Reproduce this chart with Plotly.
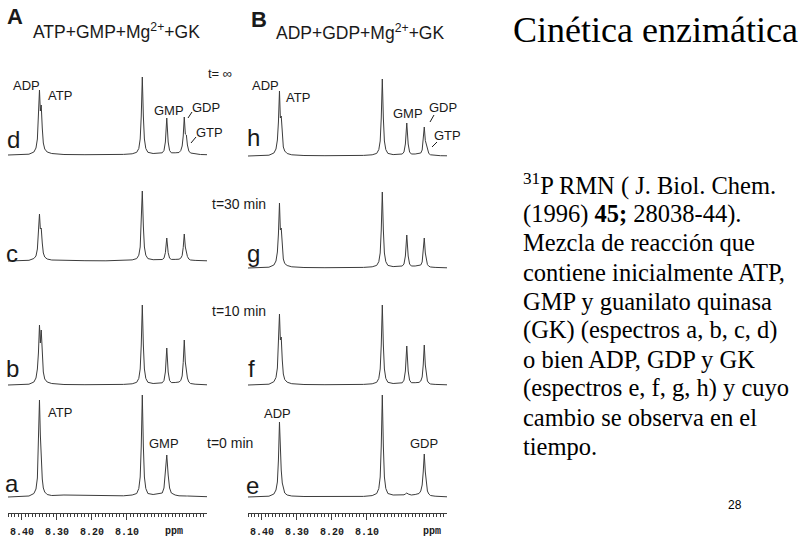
import plotly.graph_objects as go

# ---------------- data ----------------
# chemical-shift grid (ppm) shared by all spectra
PPM = [8.440, 8.420, 8.380,
       8.366, 8.360, 8.356, 8.353, 8.350, 8.3475, 8.345, 8.342, 8.339, 8.335, 8.328, 8.315,
       8.280, 8.220, 8.160, 8.110, 8.085,
       8.072, 8.066, 8.062, 8.059, 8.056, 8.053, 8.050, 8.046, 8.040,
       8.025, 8.008,
       7.999, 7.994, 7.990, 7.986, 7.982, 7.978, 7.973,
       7.962,
       7.951, 7.946, 7.942, 7.939, 7.936, 7.933, 7.930, 7.927, 7.923, 7.918,
       7.905, 7.890, 7.871]

# Panel A : ATP + GMP + Mg2+ + GK  (intensity, arbitrary units)
SPEC_D = [0, 0.3, 0.8,
          3, 7, 16, 35, 65, 44, 50, 27, 12, 6, 3, 1.5,
          0.5, 0.3, 0.2, 0.6, 1.2,
          2.7, 6.5, 16, 39, 78, 39, 16, 6.5, 2.7,
          1.5, 1.8,
          2.2, 4.5, 13, 37, 13, 4.5, 2.2,
          2.2,
          2.5, 4.5, 9, 19, 38, 21, 20, 10, 4, 2,
          1, 0.5, 0.3]
SPEC_C = [0, 0.3, 0.7,
          2.5, 5, 12, 26, 47, 32, 33, 18, 8, 4, 2, 1,
          0.5, 0.3, 0.2, 0.5, 1.1,
          2.4, 5.8, 14, 35, 70, 35, 14, 5.8, 2.4,
          1.3, 1.4,
          1.5, 2.8, 8.3, 23, 8.3, 2.8, 1.6,
          1.6,
          1.8, 2.8, 5.5, 13.5, 27, 14, 8, 4.5, 2, 1,
          0.6, 0.3, 0.2]
SPEC_B = [0, 0.3, 0.8,
          3, 7, 16, 32, 60, 42, 55, 30, 13, 6, 3, 1.5,
          0.5, 0.3, 0.2, 0.6, 1.2,
          2.7, 6.6, 16, 40, 80, 40, 16, 6.6, 2.7,
          1.5, 1.8,
          2.2, 4.5, 13, 37, 13, 4.5, 2.4,
          2.5,
          3, 4.5, 9, 22.5, 45, 23, 14, 7, 3, 1.5,
          0.8, 0.4, 0.2]
SPEC_A = [0, 0.4, 1,
          3.5, 8, 19, 48, 97, 62, 35, 18, 9, 5, 2.5, 1.5,
          2, 1.5, 1, 1.2, 2,
          3.5, 8.5, 20, 51, 102, 51, 20, 8.5, 3.5,
          2.5, 3,
          4, 9, 22, 42, 22, 9, 4,
          2,
          1.2, 1, 1, 1, 1, 1, 1, 1, 1, 1,
          0.8, 0.5, 0.3]

# Panel B : ADP + GDP + Mg2+ + GK
SPEC_H = [0, 0.3, 0.8,
          3, 7, 16, 34, 65, 38, 40, 21, 9, 5, 2.5, 1.2,
          0.5, 0.3, 0.2, 0.6, 1.2,
          2.6, 6.4, 15, 38, 77, 38, 15, 6.4, 2.6,
          1.4, 1.6,
          2, 4, 12, 33, 12, 4, 2,
          2,
          2.2, 3, 6, 14.5, 29, 15.5, 12, 6, 2.5, 1.2,
          0.6, 0.3, 0.2]
SPEC_G = [0, 0.3, 0.8,
          3, 7, 16, 34, 65, 38, 40, 20, 9, 4.5, 2.5, 1.2,
          0.5, 0.3, 0.2, 0.6, 1.2,
          2.6, 6.3, 15, 38, 76, 38, 15, 6.3, 2.6,
          1.4, 1.6,
          2, 4, 12, 33, 12, 4, 2,
          2,
          2.2, 3, 6, 15, 30, 15, 7, 3.5, 1.8, 1,
          0.6, 0.3, 0.2]
SPEC_F = [0, 0.3, 0.8,
          3.3, 7.5, 17, 37, 71, 45, 48, 25, 11, 5.5, 2.8, 1.3,
          0.5, 0.3, 0.2, 0.6, 1.2,
          2.7, 6.6, 16, 40, 80, 40, 16, 6.6, 2.7,
          1.5, 1.8,
          2.2, 4.8, 14, 39, 14, 4.8, 2.3,
          2.3,
          2.6, 4, 8, 20, 40, 20, 8, 4, 2, 1,
          0.6, 0.3, 0.2]
SPEC_E = [0, 0.3, 0.8,
          3, 7, 15, 37, 75, 48, 27, 14, 8, 4, 2, 1,
          0.5, 0.3, 0.2, 0.6, 1.4,
          3.5, 8.5, 20, 51, 102, 51, 20, 8.5, 3.5,
          2, 1.8,
          1.8, 2.2, 3, 4, 3, 2.2, 2,
          2.5,
          3.5, 6, 12, 25, 43, 25, 12, 6, 3, 1.5,
          0.8, 0.4, 0.2]

LABEL_TICKS = [8.40, 8.30, 8.20, 8.10]
LABEL_TEXT = ["8.40", "8.30", "8.20", "8.10"]
MID_TICKS = [8.35, 8.25, 8.15, 8.05, 8.00, 7.95, 7.90]

BODY_LINES = [
    "<sup>31</sup>P RMN ( J. Biol. Chem.",
    "(1996) <b>45;</b> 28038-44).",
    "Mezcla de reacción que",
    "contiene inicialmente ATP,",
    "GMP y guanilato quinasa",
    "(GK) (espectros a, b, c, d)",
    "o bien ADP, GDP y GK",
    "(espectros e, f, g, h) y cuyo",
    "cambio se observa en el",
    "tiempo.",
]

# ---------------- layout helpers ----------------
W, H = 810, 540
def fx(x):
    return x / W
def fy(y):
    return 1 - y / H

SANS = "Liberation Sans, Arial, sans-serif"
SERIF = "Liberation Serif, Times New Roman, serif"
MONO = "Liberation Mono, Courier New, monospace"
INK = "#1a1a1a"
LINE = "#3c3c3c"
XRANGE = [8.44, 7.871]

panels = [
    (SPEC_D, 155, "A", False), (SPEC_C, 261, "A", False),
    (SPEC_B, 385, "A", False), (SPEC_A, 497, "A", True),
    (SPEC_H, 156, "B", False), (SPEC_G, 268, "B", False),
    (SPEC_F, 385, "B", False), (SPEC_E, 497, "B", True),
]
XDOM = {"A": (8, 207), "B": (248, 447)}
AXIS_Y = 513
TOP = 110

fig = go.Figure()
layout = {}
extra = 9
for k, (vals, base, col, bottom) in enumerate(panels, start=1):
    sfx = "" if k == 1 else str(k)
    y0 = AXIS_Y if bottom else base + 4
    fig.add_trace(go.Scatter(x=PPM, y=vals, mode="lines",
                             line=dict(color=LINE, width=1),
                             xaxis="x" + sfx, yaxis="y" + sfx,
                             hoverinfo="skip", showlegend=False))
    xd = XDOM[col]
    xa = dict(domain=[fx(xd[0]), fx(xd[1])], range=XRANGE,
              anchor="y" + sfx, showgrid=False, zeroline=False,
              showticklabels=bottom, showline=bottom,
              linecolor=LINE, linewidth=1)
    if bottom:
        xa.update(ticks="outside", ticklen=6, tickwidth=1, tickcolor=LINE,
                  tickvals=LABEL_TICKS, ticktext=LABEL_TEXT,
                  tickfont=dict(family=MONO, size=10, color=INK, weight="bold"),
                  ticklabelstandoff=3,
                  minor=dict(dtick=0.01, tick0=8.40, ticks="outside",
                             ticklen=3, tickwidth=1, tickcolor=LINE))
        # overlay axis carrying the unlabeled 0.05-ppm ticks
        layout["xaxis%d" % extra] = dict(overlaying="x" + sfx, anchor="y" + sfx,
                                         side="bottom", range=XRANGE,
                                         tickvals=MID_TICKS, ticks="outside",
                                         ticklen=6, tickwidth=1, tickcolor=LINE,
                                         showticklabels=False, showgrid=False,
                                         zeroline=False, showline=False)
        extra += 1
    else:
        xa.update(ticks="", visible=False)
    layout["xaxis" + sfx] = xa
    layout["yaxis" + sfx] = dict(domain=[fy(y0), fy(base - TOP)],
                                 range=[-(y0 - base), TOP],
                                 anchor="x" + sfx, visible=False)

ann = []
def text(x, y, s, size=13, family=SANS, xanchor="center", color=INK, weight="normal"):
    ann.append(dict(x=fx(x), y=fy(y), xref="paper", yref="paper", text=s,
                    showarrow=False, xanchor=xanchor, yanchor="middle",
                    font=dict(family=family, size=size, color=color, weight=weight)))

# headers
text(15, 17, "A", size=22, weight="bold")
text(116, 31, "ATP+GMP+Mg<sup>2+</sup>+GK", size=17.5)
text(259, 19, "B", size=22, weight="bold")
text(360, 32, "ADP+GDP+Mg<sup>2+</sup>+GK", size=17.5)

# spectrum letters
for x, y, s in [(13, 139, "d"), (12, 254, "c"), (12, 368, "b"), (12, 483, "a"),
                (253, 137, "h"), (253, 253, "g"), (251, 368, "f"), (252, 485, "e")]:
    text(x, y, s, size=24)

# times
text(220, 73, "t= ∞", size=13)
text(239, 204, "t=30 min", size=14)
text(239, 311, "t=10 min", size=14)
text(230, 443, "t=0 min", size=14)

# peak labels
for x, y, s in [(26, 85, "ADP"), (60, 95, "ATP"), (169, 110, "GMP"), (206, 107, "GDP"),
                (209, 133, "GTP"), (60, 412, "ATP"), (164, 443, "GMP"),
                (265, 85, "ADP"), (298, 98, "ATP"), (408, 113, "GMP"), (443, 108, "GDP"),
                (448, 135, "GTP"), (277, 413, "ADP"), (424, 443, "GDP")]:
    text(x, y, s, size=13)

# ppm labels
text(174, 531, "ppm", size=10, family=MONO, weight="bold")
text(432, 531, "ppm", size=10, family=MONO, weight="bold")

# right side text
text(511, 30, "Cinética enzimática", size=36, family=SERIF, xanchor="left", color="#000")
for i, s in enumerate(BODY_LINES):
    text(521, 185 + 29 * i, s, size=24.5, family=SERIF, xanchor="left", color="#000")
text(735, 505, "28", size=12, family=SANS, color="#000")

# pointer strokes near GDP / GTP labels
shapes = []
for (x0, y0, x1, y1) in [(192, 112, 188, 118), (196, 137, 191, 143),
                         (434, 115, 430, 122), (437, 142, 432, 147)]:
    shapes.append(dict(type="line", xref="paper", yref="paper",
                       x0=fx(x0), y0=fy(y0), x1=fx(x1), y1=fy(y1),
                       line=dict(color=INK, width=1)))

fig.update_layout(width=W, height=H, margin=dict(l=0, r=0, t=0, b=0),
                  paper_bgcolor="white", plot_bgcolor="rgba(0,0,0,0)",
                  showlegend=False, annotations=ann, shapes=shapes, **layout)
fig.write_html("out.html", config={"displayModeBar": False},
               post_script="document.body.style.margin='0px';")
